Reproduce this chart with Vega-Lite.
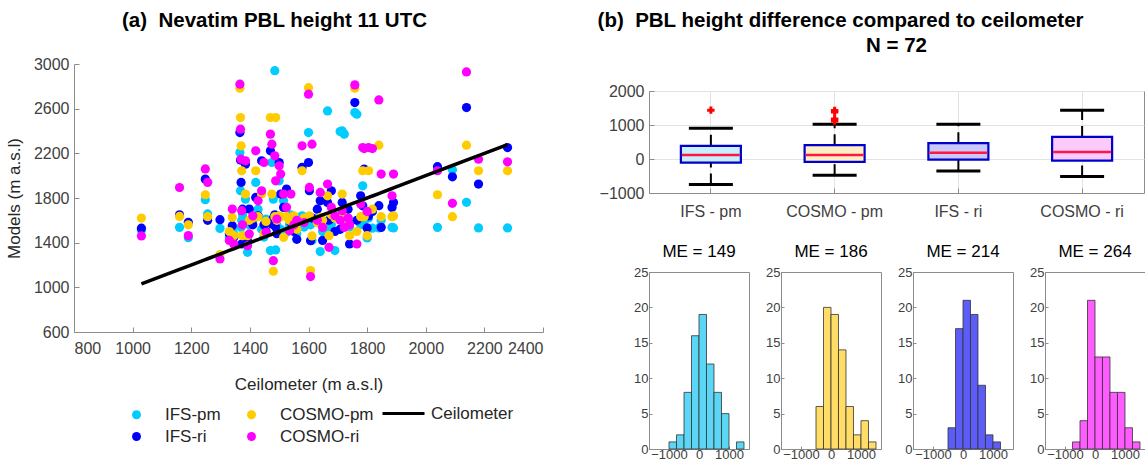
{
  "$schema": "https://vega.github.io/schema/vega-lite/v6.json",
  "background": "white",
  "padding": {"left": 5, "top": 10, "right": 0, "bottom": 0},
  "datasets": {
    "pbl": [
      {"Ceilometer": 1030, "IFS_pm": 1510, "IFS_ri": 1530, "COSMO_pm": 1620, "COSMO_ri": 1460},
      {"Ceilometer": 1160, "IFS_pm": 1537, "IFS_ri": 1650, "COSMO_pm": 1635, "COSMO_ri": 1894},
      {"Ceilometer": 1190, "IFS_pm": 1445, "IFS_ri": 1582, "COSMO_pm": 1560, "COSMO_ri": 1463},
      {"Ceilometer": 1248, "IFS_pm": 1785, "IFS_ri": 1969, "COSMO_pm": 1829, "COSMO_ri": 2060},
      {"Ceilometer": 1256, "IFS_pm": 1657, "IFS_ri": 1600, "COSMO_pm": 1633, "COSMO_ri": 1940},
      {"Ceilometer": 1298, "IFS_pm": 1528, "IFS_ri": 1606, "COSMO_pm": 1293, "COSMO_ri": 1254},
      {"Ceilometer": 1330, "IFS_pm": 1450, "IFS_ri": 1480, "COSMO_pm": 1500, "COSMO_ri": 1420},
      {"Ceilometer": 1340, "IFS_pm": 1522, "IFS_ri": 1552, "COSMO_pm": 1627, "COSMO_ri": 1701},
      {"Ceilometer": 1345, "IFS_pm": 1480, "IFS_ri": 1448, "COSMO_pm": 1463, "COSMO_ri": 1388},
      {"Ceilometer": 1366, "IFS_pm": 2208, "IFS_ri": 2386, "COSMO_pm": 2783, "COSMO_ri": 2819},
      {"Ceilometer": 1368, "IFS_pm": 1865, "IFS_ri": 2140, "COSMO_pm": 2520, "COSMO_ri": 2416},
      {"Ceilometer": 1370, "IFS_pm": 1537, "IFS_ri": 1939, "COSMO_pm": 2267, "COSMO_ri": 2148},
      {"Ceilometer": 1372, "IFS_pm": 1600, "IFS_ri": 1388, "COSMO_pm": 2044, "COSMO_ri": 1686},
      {"Ceilometer": 1375, "IFS_pm": 1650, "IFS_ri": 1700, "COSMO_pm": 1463, "COSMO_ri": 1560},
      {"Ceilometer": 1385, "IFS_pm": 1790, "IFS_ri": 2103, "COSMO_pm": 1835, "COSMO_ri": 2133},
      {"Ceilometer": 1392, "IFS_pm": 1314, "IFS_ri": 1418, "COSMO_pm": 1463, "COSMO_ri": 1373},
      {"Ceilometer": 1398, "IFS_pm": 1560, "IFS_ri": 1701, "COSMO_pm": 1600, "COSMO_ri": 1478},
      {"Ceilometer": 1410, "IFS_pm": 1600, "IFS_ri": 1560, "COSMO_pm": 1620, "COSMO_ri": 1640},
      {"Ceilometer": 1420, "IFS_pm": 1939, "IFS_ri": 1805, "COSMO_pm": 2044, "COSMO_ri": 2223},
      {"Ceilometer": 1428, "IFS_pm": 1700, "IFS_ri": 1641, "COSMO_pm": 1633, "COSMO_ri": 1775},
      {"Ceilometer": 1440, "IFS_pm": 1520, "IFS_ri": 2133, "COSMO_pm": 1835, "COSMO_ri": 1865},
      {"Ceilometer": 1448, "IFS_pm": 1450, "IFS_ri": 1560, "COSMO_pm": 1478, "COSMO_ri": 2118},
      {"Ceilometer": 1455, "IFS_pm": 1610, "IFS_ri": 1500, "COSMO_pm": 1590, "COSMO_ri": 1493},
      {"Ceilometer": 1470, "IFS_pm": 1329, "IFS_ri": 2223, "COSMO_pm": 2521, "COSMO_ri": 2372},
      {"Ceilometer": 1475, "IFS_pm": 2118, "IFS_ri": 1567, "COSMO_pm": 1835, "COSMO_ri": 2282},
      {"Ceilometer": 1480, "IFS_pm": 1790, "IFS_ri": 1620, "COSMO_pm": 1144, "COSMO_ri": 1239},
      {"Ceilometer": 1485, "IFS_pm": 2940, "IFS_ri": 1650, "COSMO_pm": 1633, "COSMO_ri": 2178},
      {"Ceilometer": 1488, "IFS_pm": 1335, "IFS_ri": 1540, "COSMO_pm": 2520, "COSMO_ri": 1954},
      {"Ceilometer": 1492, "IFS_pm": 1560, "IFS_ri": 1480, "COSMO_pm": 1600, "COSMO_ri": 1612},
      {"Ceilometer": 1500, "IFS_pm": 1954, "IFS_ri": 2118, "COSMO_pm": 1641, "COSMO_ri": 2088},
      {"Ceilometer": 1505, "IFS_pm": 1520, "IFS_ri": 1835, "COSMO_pm": 1633, "COSMO_ri": 2014},
      {"Ceilometer": 1515, "IFS_pm": 1775, "IFS_ri": 1716, "COSMO_pm": 1448, "COSMO_ri": 1835},
      {"Ceilometer": 1525, "IFS_pm": 1493, "IFS_ri": 1880, "COSMO_pm": 1633, "COSMO_ri": 1716},
      {"Ceilometer": 1535, "IFS_pm": 1560, "IFS_ri": 1620, "COSMO_pm": 1600, "COSMO_ri": 1507},
      {"Ceilometer": 1540, "IFS_pm": 1650, "IFS_ri": 1580, "COSMO_pm": 1620, "COSMO_ri": 1835},
      {"Ceilometer": 1550, "IFS_pm": 1540, "IFS_ri": 1500, "COSMO_pm": 1640, "COSMO_ri": 1560},
      {"Ceilometer": 1560, "IFS_pm": 1480, "IFS_ri": 1430, "COSMO_pm": 1520, "COSMO_ri": 1600},
      {"Ceilometer": 1578, "IFS_pm": 1641, "IFS_ri": 2074, "COSMO_pm": 2044, "COSMO_ri": 2267},
      {"Ceilometer": 1585, "IFS_pm": 1540, "IFS_ri": 1600, "COSMO_pm": 1620, "COSMO_ri": 1580},
      {"Ceilometer": 1600, "IFS_pm": 2386, "IFS_ri": 2118, "COSMO_pm": 2788, "COSMO_ri": 2730},
      {"Ceilometer": 1603, "IFS_pm": 1600, "IFS_ri": 1865, "COSMO_pm": 1641, "COSMO_ri": 1895},
      {"Ceilometer": 1607, "IFS_pm": 1560, "IFS_ri": 1418, "COSMO_pm": 1150, "COSMO_ri": 1096},
      {"Ceilometer": 1612, "IFS_pm": 1420, "IFS_ri": 1620, "COSMO_pm": 1460, "COSMO_ri": 2282},
      {"Ceilometer": 1630, "IFS_pm": 1620, "IFS_ri": 1700, "COSMO_pm": 1580, "COSMO_ri": 1600},
      {"Ceilometer": 1640, "IFS_pm": 1320, "IFS_ri": 1775, "COSMO_pm": 1627, "COSMO_ri": 1850},
      {"Ceilometer": 1648, "IFS_pm": 1500, "IFS_ri": 1420, "COSMO_pm": 1600, "COSMO_ri": 1537},
      {"Ceilometer": 1665, "IFS_pm": 2580, "IFS_ri": 1760, "COSMO_pm": 1820, "COSMO_ri": 1925},
      {"Ceilometer": 1670, "IFS_pm": 1540, "IFS_ri": 1600, "COSMO_pm": 1463, "COSMO_ri": 1358},
      {"Ceilometer": 1678, "IFS_pm": 1560, "IFS_ri": 1865, "COSMO_pm": 1650, "COSMO_ri": 1716},
      {"Ceilometer": 1690, "IFS_pm": 1329, "IFS_ri": 1500, "COSMO_pm": 1620, "COSMO_ri": 1641},
      {"Ceilometer": 1708, "IFS_pm": 2395, "IFS_ri": 1520, "COSMO_pm": 1640, "COSMO_ri": 1600},
      {"Ceilometer": 1715, "IFS_pm": 2401, "IFS_ri": 1760, "COSMO_pm": 1835, "COSMO_ri": 1686},
      {"Ceilometer": 1722, "IFS_pm": 2372, "IFS_ri": 1600, "COSMO_pm": 1627, "COSMO_ri": 1537},
      {"Ceilometer": 1735, "IFS_pm": 1620, "IFS_ri": 1700, "COSMO_pm": 1560, "COSMO_ri": 1620},
      {"Ceilometer": 1740, "IFS_pm": 1540, "IFS_ri": 1388, "COSMO_pm": 1463, "COSMO_ri": 1560},
      {"Ceilometer": 1758, "IFS_pm": 2565, "IFS_ri": 2655, "COSMO_pm": 2783, "COSMO_ri": 2813},
      {"Ceilometer": 1765, "IFS_pm": 2550, "IFS_ri": 1600, "COSMO_pm": 1500, "COSMO_ri": 1388},
      {"Ceilometer": 1778, "IFS_pm": 1560, "IFS_ri": 1820, "COSMO_pm": 1633, "COSMO_ri": 1746},
      {"Ceilometer": 1785, "IFS_pm": 1909, "IFS_ri": 1730, "COSMO_pm": 2044, "COSMO_ri": 2252},
      {"Ceilometer": 1790, "IFS_pm": 1600, "IFS_ri": 2059, "COSMO_pm": 1633, "COSMO_ri": 2243},
      {"Ceilometer": 1800, "IFS_pm": 1442, "IFS_ri": 1532, "COSMO_pm": 1463, "COSMO_ri": 1680},
      {"Ceilometer": 1805, "IFS_pm": 1620, "IFS_ri": 1640, "COSMO_pm": 2044, "COSMO_ri": 2252},
      {"Ceilometer": 1818, "IFS_pm": 1530, "IFS_ri": 1680, "COSMO_pm": 1700, "COSMO_ri": 2243},
      {"Ceilometer": 1840, "IFS_pm": 1532, "IFS_ri": 1731, "COSMO_pm": 2273, "COSMO_ri": 2678},
      {"Ceilometer": 1848, "IFS_pm": 1600, "IFS_ri": 1537, "COSMO_pm": 1633, "COSMO_ri": 2014},
      {"Ceilometer": 1885, "IFS_pm": 1537, "IFS_ri": 1716, "COSMO_pm": 1633, "COSMO_ri": 1820},
      {"Ceilometer": 1890, "IFS_pm": 1532, "IFS_ri": 1760, "COSMO_pm": 1640, "COSMO_ri": 2014},
      {"Ceilometer": 2040, "IFS_pm": 1537, "IFS_ri": 2080, "COSMO_pm": 1829, "COSMO_ri": 2044},
      {"Ceilometer": 2091, "IFS_pm": 2053, "IFS_ri": 1990, "COSMO_pm": 1633, "COSMO_ri": 1752},
      {"Ceilometer": 2139, "IFS_pm": 1761, "IFS_ri": 2610, "COSMO_pm": 2273, "COSMO_ri": 2929},
      {"Ceilometer": 2180, "IFS_pm": 1532, "IFS_ri": 1925, "COSMO_pm": 2044, "COSMO_ri": 2148},
      {"Ceilometer": 2279, "IFS_pm": 1532, "IFS_ri": 2252, "COSMO_pm": 2044, "COSMO_ri": 2124}
    ],
    "boxes": [
      {"model": "IFS - pm", "lo": -748, "q1": -107, "med": 117, "q3": 388, "hi": 903},
      {"model": "COSMO - pm", "lo": -476, "q1": -87, "med": 117, "q3": 408, "hi": 1019},
      {"model": "IFS - ri", "lo": -350, "q1": -19, "med": 184, "q3": 466, "hi": 1019},
      {"model": "COSMO - ri", "lo": -515, "q1": -49, "med": 204, "q3": 650, "hi": 1437}
    ],
    "outliers": [
      {"model": "IFS - pm", "v": 1437},
      {"model": "COSMO - pm", "v": 1430},
      {"model": "COSMO - pm", "v": 1380},
      {"model": "COSMO - pm", "v": 1180},
      {"model": "COSMO - pm", "v": 1120}
    ],
    "hist": [
      {"model": "IFS-pm", "lo": -1000, "hi": -750, "n": 1},
      {"model": "IFS-pm", "lo": -750, "hi": -500, "n": 2},
      {"model": "IFS-pm", "lo": -500, "hi": -250, "n": 8},
      {"model": "IFS-pm", "lo": -250, "hi": 0, "n": 16},
      {"model": "IFS-pm", "lo": 0, "hi": 250, "n": 19},
      {"model": "IFS-pm", "lo": 250, "hi": 500, "n": 12},
      {"model": "IFS-pm", "lo": 500, "hi": 750, "n": 8},
      {"model": "IFS-pm", "lo": 750, "hi": 1000, "n": 5},
      {"model": "IFS-pm", "lo": 1250, "hi": 1500, "n": 1},
      {"model": "COSMO-pm", "lo": -500, "hi": -250, "n": 6},
      {"model": "COSMO-pm", "lo": -250, "hi": 0, "n": 20},
      {"model": "COSMO-pm", "lo": 0, "hi": 250, "n": 19},
      {"model": "COSMO-pm", "lo": 250, "hi": 500, "n": 14},
      {"model": "COSMO-pm", "lo": 500, "hi": 750, "n": 6},
      {"model": "COSMO-pm", "lo": 750, "hi": 1000, "n": 2},
      {"model": "COSMO-pm", "lo": 1000, "hi": 1250, "n": 4},
      {"model": "COSMO-pm", "lo": 1250, "hi": 1500, "n": 1},
      {"model": "IFS-ri", "lo": -500, "hi": -250, "n": 3},
      {"model": "IFS-ri", "lo": -250, "hi": 0, "n": 17},
      {"model": "IFS-ri", "lo": 0, "hi": 250, "n": 21},
      {"model": "IFS-ri", "lo": 250, "hi": 500, "n": 19},
      {"model": "IFS-ri", "lo": 500, "hi": 750, "n": 9},
      {"model": "IFS-ri", "lo": 750, "hi": 1000, "n": 2},
      {"model": "IFS-ri", "lo": 1000, "hi": 1250, "n": 1},
      {"model": "COSMO-ri", "lo": -750, "hi": -500, "n": 1},
      {"model": "COSMO-ri", "lo": -500, "hi": -250, "n": 4},
      {"model": "COSMO-ri", "lo": -250, "hi": 0, "n": 21},
      {"model": "COSMO-ri", "lo": 0, "hi": 250, "n": 13},
      {"model": "COSMO-ri", "lo": 250, "hi": 500, "n": 13},
      {"model": "COSMO-ri", "lo": 500, "hi": 750, "n": 8},
      {"model": "COSMO-ri", "lo": 750, "hi": 1000, "n": 8},
      {"model": "COSMO-ri", "lo": 1000, "hi": 1250, "n": 3},
      {"model": "COSMO-ri", "lo": 1250, "hi": 1500, "n": 1}
    ]
  },
  "spacing": 53,
  "resolve": {"scale": {"color": "independent", "stroke": "independent"}},
  "hconcat": [
    {
      "width": 469,
      "height": 268,
      "view": {"stroke": null},
      "title": {"text": "(a)\u00a0\u00a0Nevatim PBL height 11 UTC", "dx": -34, "offset": 25},
      "data": {"name": "pbl"},
      "layer": [
        {
          "mark": {"type": "point", "filled": true, "size": 85, "opacity": 1, "strokeWidth": 0},
          "encoding": {
            "x": {"field": "Ceilometer", "type": "quantitative", "title": "Ceilometer (m a.s.l)", "scale": {"domain": [800, 2400], "nice": false}, "axis": {"values": [800, 1000, 1200, 1400, 1600, 1800, 2000, 2200, 2400], "format": "d", "labelPadding": 13, "titlePadding": 20}},
            "y": {"field": "IFS_pm", "type": "quantitative", "title": "Models (m a.s.l)", "scale": {"domain": [600, 3000], "nice": false}, "axis": {"values": [600, 1000, 1400, 1800, 2200, 2600, 3000], "format": "d"}},
            "color": {
              "datum": "IFS-pm", "type": "nominal",
              "scale": {"domain": ["IFS-pm", "COSMO-pm", "IFS-ri", "COSMO-ri"], "range": ["#00CCFF", "#FFCC00", "#0000FF", "#FF00FF"]},
              "legend": {"orient": "none", "legendX": 54, "legendY": 342, "columns": 2, "direction": "horizontal", "title": null, "symbolType": "circle", "symbolSize": 80, "symbolStrokeWidth": 0, "labelFontSize": 17, "labelOffset": 20, "columnPadding": 22, "rowPadding": 4, "labelColor": "#262626"}
            }
          }
        },
        {
          "mark": {"type": "point", "filled": true, "size": 85, "opacity": 1, "strokeWidth": 0},
          "encoding": {
            "x": {"field": "Ceilometer", "type": "quantitative", "title": "Ceilometer (m a.s.l)"},
            "y": {"field": "IFS_ri", "type": "quantitative", "title": "Models (m a.s.l)"},
            "color": {"datum": "IFS-ri", "type": "nominal"}
          }
        },
        {
          "mark": {"type": "point", "filled": true, "size": 85, "opacity": 1, "strokeWidth": 0},
          "encoding": {
            "x": {"field": "Ceilometer", "type": "quantitative", "title": "Ceilometer (m a.s.l)"},
            "y": {"field": "COSMO_pm", "type": "quantitative", "title": "Models (m a.s.l)"},
            "color": {"datum": "COSMO-pm", "type": "nominal"}
          }
        },
        {
          "mark": {"type": "point", "filled": true, "size": 85, "opacity": 1, "strokeWidth": 0},
          "encoding": {
            "x": {"field": "Ceilometer", "type": "quantitative", "title": "Ceilometer (m a.s.l)"},
            "y": {"field": "COSMO_ri", "type": "quantitative", "title": "Models (m a.s.l)"},
            "color": {"datum": "COSMO-ri", "type": "nominal"}
          }
        },
        {
          "mark": {"type": "line", "strokeWidth": 3.5},
          "encoding": {
            "x": {"field": "Ceilometer", "type": "quantitative", "title": "Ceilometer (m a.s.l)"},
            "y": {"field": "Ceilometer", "type": "quantitative", "title": "Models (m a.s.l)"},
            "stroke": {
              "datum": "Ceilometer", "type": "nominal",
              "scale": {"domain": ["Ceilometer"], "range": ["#000000"]},
              "legend": {"orient": "none", "legendX": 307, "legendY": 327, "title": null, "symbolType": "stroke", "symbolSize": 1764, "symbolStrokeWidth": 3, "labelFontSize": 17, "labelOffset": 5, "labelColor": "#262626"}
            }
          }
        }
      ]
    },
    {
      "bounds": "flush",
      "spacing": 26,
      "vconcat": [
        {
          "width": 495,
          "height": 1,
          "view": {"stroke": null},
          "data": {"values": []},
          "mark": "point"
        },
        {
          "title": {"text": "(b)\u00a0\u00a0PBL height difference compared to ceilometer", "anchor": "start", "dx": -1, "offset": 4},
          "bounds": "flush",
          "spacing": 79,
          "vconcat": [
            {
              "width": 495,
              "height": 102,
              "title": {"text": "N = 72", "offset": 27},
              "data": {"name": "boxes"},
              "encoding": {
                "x": {"field": "model", "type": "nominal", "sort": null, "title": null, "scale": {"paddingInner": 0, "paddingOuter": 0},
                  "axis": {"labelAngle": 0, "labelFontSize": 16, "bandPosition": 0.5, "grid": true, "gridColor": "#e3e3e3", "labelPadding": 15}}
              },
              "layer": [
                {
                  "mark": {"type": "rule", "strokeWidth": 2, "strokeDash": [11, 6], "color": "black"},
                  "encoding": {
                    "y": {"field": "lo", "type": "quantitative", "title": null, "scale": {"domain": [-1000, 2000], "nice": false},
                      "axis": {"values": [-1000, 0, 1000, 2000], "format": "d", "grid": true, "gridColor": "#e3e3e3", "labelFontSize": 16, "labelOverlap": false}},
                    "y2": {"field": "q1"}
                  }
                },
                {
                  "mark": {"type": "rule", "strokeWidth": 2, "strokeDash": [11, 6], "color": "black"},
                  "encoding": {
                    "y": {"field": "q3", "type": "quantitative", "title": null, "scale": {"domain": [-1000, 2000], "nice": false},
                      "axis": {"values": [-1000, 0, 1000, 2000], "format": "d", "grid": true, "gridColor": "#e3e3e3", "labelFontSize": 16, "labelOverlap": false}},
                    "y2": {"field": "hi"}
                  }
                },
                {
                  "mark": {"type": "tick", "size": 44, "thickness": 3, "color": "black", "opacity": 1},
                  "encoding": {"y": {"field": "lo", "type": "quantitative", "title": null, "scale": {"domain": [-1000, 2000], "nice": false},
                      "axis": {"values": [-1000, 0, 1000, 2000], "format": "d", "grid": true, "gridColor": "#e3e3e3", "labelFontSize": 16, "labelOverlap": false}}}
                },
                {
                  "mark": {"type": "tick", "size": 44, "thickness": 3, "color": "black", "opacity": 1},
                  "encoding": {"y": {"field": "hi", "type": "quantitative", "title": null, "scale": {"domain": [-1000, 2000], "nice": false},
                      "axis": {"values": [-1000, 0, 1000, 2000], "format": "d", "grid": true, "gridColor": "#e3e3e3", "labelFontSize": 16, "labelOverlap": false}}}
                },
                {
                  "mark": {"type": "bar", "width": 60, "stroke": "#0000CC", "strokeWidth": 2.2, "opacity": 1},
                  "encoding": {
                    "y": {"field": "q1", "type": "quantitative", "title": null, "scale": {"domain": [-1000, 2000], "nice": false},
                      "axis": {"values": [-1000, 0, 1000, 2000], "format": "d", "grid": true, "gridColor": "#e3e3e3", "labelFontSize": 16, "labelOverlap": false}},
                    "y2": {"field": "q3"},
                    "color": {"field": "model", "type": "nominal", "legend": null, "scale": {"domain": ["IFS - pm", "COSMO - pm", "IFS - ri", "COSMO - ri"], "range": ["#C9EFFB", "#FFF0C4", "#C9C9F8", "#FCCBFC"]}}
                  }
                },
                {
                  "mark": {"type": "tick", "size": 58, "thickness": 2.5, "color": "#FF1744", "opacity": 1},
                  "encoding": {"y": {"field": "med", "type": "quantitative", "title": null, "scale": {"domain": [-1000, 2000], "nice": false},
                      "axis": {"values": [-1000, 0, 1000, 2000], "format": "d", "grid": true, "gridColor": "#e3e3e3", "labelFontSize": 16, "labelOverlap": false}}}
                },
                {
                  "data": {"name": "outliers"},
                  "mark": {"type": "point", "shape": "cross", "filled": true, "color": "#FF0000", "size": 55, "opacity": 1},
                  "encoding": {
                    "x": {"field": "model", "type": "nominal", "sort": null, "title": null,
                      "axis": {"labelAngle": 0, "labelFontSize": 16, "bandPosition": 0.5, "grid": true, "gridColor": "#e3e3e3", "labelPadding": 15}},
                    "y": {"field": "v", "type": "quantitative", "title": null, "scale": {"domain": [-1000, 2000], "nice": false},
                      "axis": {"values": [-1000, 0, 1000, 2000], "format": "d", "grid": true, "gridColor": "#e3e3e3", "labelFontSize": 16, "labelOverlap": false}}
                  }
                }
              ]
            },
            {
              "bounds": "flush",
              "spacing": 32,
              "hconcat": [
                {
                  "width": 100, "height": 177,
                  "title": {"text": "ME = 149", "fontWeight": "normal", "fontSize": 17, "offset": 5},
                  "data": {"name": "hist"},
                  "transform": [{"filter": "datum.model == 'IFS-pm'"}],
                  "mark": {"type": "rect", "color": "#5CD6F5", "stroke": "#333333", "strokeWidth": 0.8, "opacity": 1},
                  "encoding": {
                    "x": {"field": "lo", "type": "quantitative", "title": null, "scale": {"domain": [-1667, 1667], "nice": false}, "axis": {"values": [-1000, 0, 1000], "format": "d", "labelFontSize": 13, "labelPadding": 2, "tickSize": -3, "labelOverlap": false}},
                    "x2": {"field": "hi"},
                    "y": {"field": "n", "type": "quantitative", "title": null, "scale": {"domain": [0, 25], "nice": false}, "axis": {"values": [0, 5, 10, 15, 20, 25], "labelFontSize": 13, "labelPadding": 4, "tickSize": -3, "labelOverlap": false}},
                    "y2": {"datum": 0}
                  }
                },
                {
                  "width": 100, "height": 177,
                  "title": {"text": "ME = 186", "fontWeight": "normal", "fontSize": 17, "offset": 5},
                  "data": {"name": "hist"},
                  "transform": [{"filter": "datum.model == 'COSMO-pm'"}],
                  "mark": {"type": "rect", "color": "#FFDD66", "stroke": "#333333", "strokeWidth": 0.8, "opacity": 1},
                  "encoding": {
                    "x": {"field": "lo", "type": "quantitative", "title": null, "scale": {"domain": [-1667, 1667], "nice": false}, "axis": {"values": [-1000, 0, 1000], "format": "d", "labelFontSize": 13, "labelPadding": 2, "tickSize": -3, "labelOverlap": false}},
                    "x2": {"field": "hi"},
                    "y": {"field": "n", "type": "quantitative", "title": null, "scale": {"domain": [0, 25], "nice": false}, "axis": {"values": [0, 5, 10, 15, 20, 25], "labelFontSize": 13, "labelPadding": 4, "tickSize": -3, "labelOverlap": false}},
                    "y2": {"datum": 0}
                  }
                },
                {
                  "width": 100, "height": 177,
                  "title": {"text": "ME = 214", "fontWeight": "normal", "fontSize": 17, "offset": 5},
                  "data": {"name": "hist"},
                  "transform": [{"filter": "datum.model == 'IFS-ri'"}],
                  "mark": {"type": "rect", "color": "#5C5CF7", "stroke": "#333333", "strokeWidth": 0.8, "opacity": 1},
                  "encoding": {
                    "x": {"field": "lo", "type": "quantitative", "title": null, "scale": {"domain": [-1667, 1667], "nice": false}, "axis": {"values": [-1000, 0, 1000], "format": "d", "labelFontSize": 13, "labelPadding": 2, "tickSize": -3, "labelOverlap": false}},
                    "x2": {"field": "hi"},
                    "y": {"field": "n", "type": "quantitative", "title": null, "scale": {"domain": [0, 25], "nice": false}, "axis": {"values": [0, 5, 10, 15, 20, 25], "labelFontSize": 13, "labelPadding": 4, "tickSize": -3, "labelOverlap": false}},
                    "y2": {"datum": 0}
                  }
                },
                {
                  "width": 100, "height": 177,
                  "title": {"text": "ME = 264", "fontWeight": "normal", "fontSize": 17, "offset": 5},
                  "data": {"name": "hist"},
                  "transform": [{"filter": "datum.model == 'COSMO-ri'"}],
                  "mark": {"type": "rect", "color": "#FF5CFF", "stroke": "#333333", "strokeWidth": 0.8, "opacity": 1},
                  "encoding": {
                    "x": {"field": "lo", "type": "quantitative", "title": null, "scale": {"domain": [-1667, 1667], "nice": false}, "axis": {"values": [-1000, 0, 1000], "format": "d", "labelFontSize": 13, "labelPadding": 2, "tickSize": -3, "labelOverlap": false}},
                    "x2": {"field": "hi"},
                    "y": {"field": "n", "type": "quantitative", "title": null, "scale": {"domain": [0, 25], "nice": false}, "axis": {"values": [0, 5, 10, 15, 20, 25], "labelFontSize": 13, "labelPadding": 4, "tickSize": -3, "labelOverlap": false}},
                    "y2": {"datum": 0}
                  }
                }
              ]
            }
          ]
        }
      ]
    }
  ],
  "config": {
    "font": "Liberation Sans",
    "view": {"stroke": "#8c8c8c", "strokeWidth": 1},
    "axis": {
      "grid": false,
      "domainColor": "#8c8c8c",
      "tickColor": "#8c8c8c",
      "tickSize": -5,
      "labelPadding": 10,
      "labelColor": "#404040",
      "labelFontSize": 16,
      "titleColor": "#262626",
      "titleFontSize": 17,
      "titleFontWeight": "normal",
      "titlePadding": 10
    },
    "title": {"fontSize": 20.5, "fontWeight": "bold", "color": "#000000"}
  }
}
